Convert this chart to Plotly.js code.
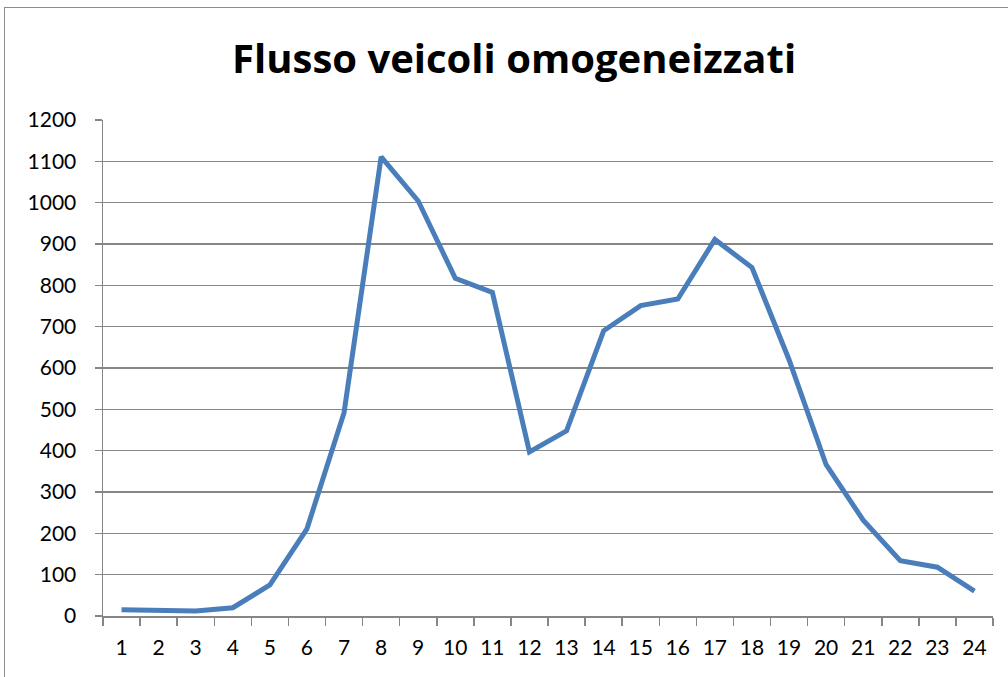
<!DOCTYPE html>
<html>
<head>
<meta charset="utf-8">
<script src="https://cdn.plot.ly/plotly-3.0.1.min.js"></script>
<style>
  html, body { margin: 0; padding: 0; background: #fff; }
  #chart { position: absolute; left: 0; top: 0; width: 1008px; height: 677px; }
  #frame { position: absolute; left: 4px; top: 7px; width: 1010px; height: 680px; border: 1.5px solid #8c8c8c; pointer-events: none; }
</style>
</head>
<body>
<div id="chart"></div>
<div id="frame"></div>
<script>
const chartTitle = "Flusso veicoli omogeneizzati";
const hours = ["1","2","3","4","5","6","7","8","9","10","11","12","13","14","15","16","17","18","19","20","21","22","23","24"];
const flow = [15, 15, 12, 20, 75, 211, 492, 1111, 1004, 817, 783, 397, 448, 690, 751, 767, 911, 843, 620, 366, 232, 134, 118, 60];
const yTicks = [0, 100, 200, 300, 400, 500, 600, 700, 800, 900, 1000, 1100, 1200];

const trace = {
  x: hours,
  y: flow,
  type: 'scatter',
  mode: 'lines',
  line: { color: '#4A7EBB', width: 5 },
  hoverinfo: 'x+y'
};

const layout = {
  width: 1008,
  height: 677,
  margin: { l: 103, r: 15, t: 120, b: 61 },
  paper_bgcolor: 'rgba(0,0,0,0)',
  plot_bgcolor: '#ffffff',
  showlegend: false,
  title: {
    text: '<b>' + chartTitle + '</b>',
    font: { family: '"Open Sans", Lato, sans-serif', size: 40, color: '#000000' },
    x: 0.51, xanchor: 'center',
    y: 0.913, yanchor: 'middle'
  },
  xaxis: {
    type: 'category',
    range: [-0.5, 23.5],
    showgrid: false,
    zeroline: false,
    showline: true,
    linecolor: '#868686',
    linewidth: 1.5,
    ticks: 'outside',
    ticklen: 8,
    tickwidth: 1.5,
    tickcolor: '#868686',
    tickson: 'boundaries',
    ticklabelstandoff: 12,
    tickfont: { family: 'Lato, "Open Sans", sans-serif', size: 21, color: '#000000' },
    fixedrange: true
  },
  yaxis: {
    range: [0, 1200],
    tickvals: yTicks,
    ticktext: yTicks.map(String),
    showgrid: true,
    gridcolor: '#868686',
    gridwidth: 1.5,
    zeroline: false,
    showline: true,
    linecolor: '#868686',
    linewidth: 1.5,
    ticks: 'outside',
    ticklen: 7,
    tickwidth: 1.5,
    tickcolor: '#868686',
    ticklabelstandoff: 14,
    tickfont: { family: 'Lato, "Open Sans", sans-serif', size: 21, color: '#000000' },
    fixedrange: true
  }
};

Plotly.newPlot('chart', [trace], layout, { displayModeBar: false, staticPlot: true });
</script>
</body>
</html>
